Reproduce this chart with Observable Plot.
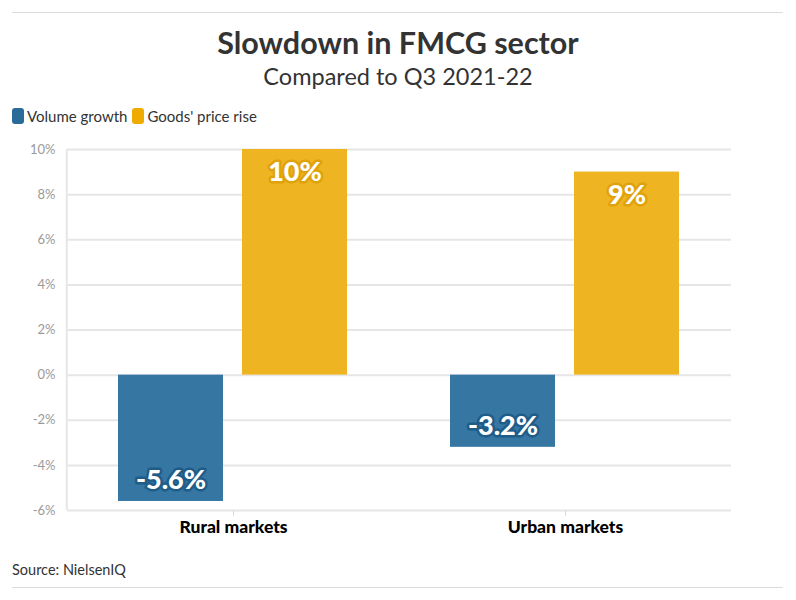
<!DOCTYPE html>
<html>
<head>
<meta charset="utf-8">
<script src="https://cdn.jsdelivr.net/npm/d3@7"></script>
<script src="https://cdn.jsdelivr.net/npm/@observablehq/plot@0.6"></script>
<style>
  html, body { margin: 0; padding: 0; background: #fff; }
  body { width: 796px; height: 600px; position: relative; font-family: "Source Sans Pro", Lato, "Noto Sans", sans-serif; color: #333; overflow: hidden; }
  .rule { position: absolute; left: 12px; width: 771px; height: 0; border-top: 1px solid #dcdcdc; }
  #title { position: absolute; top: 22px; left: 0; width: 796px; text-align: center; font-size: 30.5px; font-weight: 700; color: #333; line-height: 40px; }
  #subtitle { position: absolute; top: 60px; left: 0; width: 796px; text-align: center; font-size: 23.5px; color: #333; line-height: 32px; }
  #legend { position: absolute; top: 106px; left: 12px; display: flex; align-items: center; font-size: 15px; color: #333; line-height: 20px; }
  .sw { display: inline-block; width: 12px; height: 16px; border-radius: 3px; margin-right: 3px; }
  .item { display: flex; align-items: center; margin-right: 5px; }
  #chart { position: absolute; top: 130px; left: 0; }
  #source { position: absolute; top: 560px; left: 12px; font-size: 14.5px; color: #333; line-height: 20px; }
</style>
</head>
<body>
<div class="rule" style="top:12px"></div>
<div id="title">Slowdown in FMCG sector</div>
<div id="subtitle">Compared to Q3 2021-22</div>
<div id="legend"></div>
<div id="chart"></div>
<div id="source">Source: NielsenIQ</div>
<div class="rule" style="top:587px"></div>
<script>
const categories = ["Rural markets", "Urban markets"];
const seriesNames = ["Volume growth", "Goods' price rise"];
const volumeGrowth = [-5.6, -3.2];
const priceRise = [10, 9];
const labels = [["-5.6%", "-3.2%"], ["10%", "9%"]];
const yTicks = [-6, -4, -2, 0, 2, 4, 6, 8, 10];
const colors = ["#3576a3", "#efb422"];
const haloColors = ["#1f5c88", "#e0a20a"];

const data = [];
categories.forEach((c, i) => {
  data.push({cat: c, series: seriesNames[0], value: volumeGrowth[i], label: labels[0][i]});
  data.push({cat: c, series: seriesNames[1], value: priceRise[i], label: labels[1][i]});
});

// legend
const legend = document.getElementById("legend");
seriesNames.forEach((s, i) => {
  const it = document.createElement("span");
  it.className = "item";
  it.innerHTML = `<span class="sw" style="background:${i === 0 ? "#2a6b9a" : "#efab00"}"></span>${s}`;
  legend.appendChild(it);
});

const halo = d => haloColors[seriesNames.indexOf(d.series)];

const chart = Plot.plot({
  width: 796,
  height: 420,
  marginTop: 19,
  marginBottom: 40,
  marginLeft: 66,
  marginRight: 65,
  style: {fontFamily: '"Source Sans Pro", Lato, "Noto Sans", sans-serif', background: "transparent"},
  fx: {domain: categories, padding: 0, label: null},
  x: {domain: seriesNames, paddingInner: 0.153, paddingOuter: 0.41, axis: null},
  y: {domain: [-6, 10], label: null},
  color: {domain: seriesNames, range: colors},
  marks: [
    Plot.gridY(yTicks, {stroke: "#e6e6e6", strokeOpacity: 1, strokeWidth: 2}),
    Plot.axisY(yTicks, {tickSize: 0, tickPadding: 12, fill: "#9a9a9a", fontSize: 13, tickFormat: d => d + "%", label: null}),
    Plot.ruleX(data.filter(d => d.cat === categories[0] && d.series === seriesNames[0]), {fx: "cat", x: "series", y1: -6, y2: 10, stroke: "#e6e6e6", strokeWidth: 2, dx: -51.5 - 52.75}),
    Plot.axisFx({anchor: "bottom", tickSize: 6, stroke: "#dcdcdc", text: null, label: null}),
    Plot.axisFx({anchor: "bottom", tickSize: 0, tickPadding: 10, fill: "#000", fontSize: 17.5, fontWeight: 900, label: null}),
    Plot.barY(data, {fx: "cat", x: "series", y: "value", fill: "series"}),
    Plot.text(data.filter(d => d.value >= 0), {fx: "cat", x: "series", y: "value", text: "label", dy: 23, fill: "white", stroke: halo, strokeWidth: 5, fontSize: 27, fontWeight: 900}),
    Plot.text(data.filter(d => d.value < 0), {fx: "cat", x: "series", y: "value", text: "label", dy: -21, fill: "white", stroke: halo, strokeWidth: 5, fontSize: 27, fontWeight: 900})
  ]
});
document.getElementById("chart").appendChild(chart);
</script>
</body>
</html>
